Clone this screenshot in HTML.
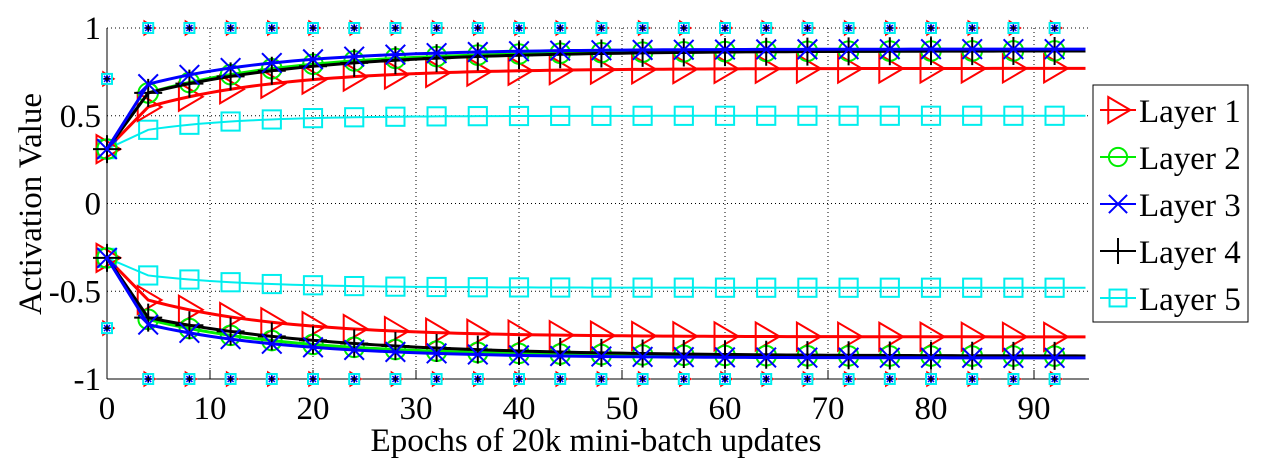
<!DOCTYPE html>
<html><head><meta charset="utf-8"><style>
body{margin:0;background:#fff;width:1273px;height:465px;overflow:hidden}
text{font-family:"Liberation Serif","DejaVu Serif",serif}
</style></head><body>
<svg id="s" width="1273" height="465" xmlns="http://www.w3.org/2000/svg" font-family="Liberation Serif, DejaVu Serif, serif"></svg>
<script>
const s=document.getElementById('s');
const X=x=>107+x*10.3, Y=y=>203.5-y*175.5;
const F='font-family="Liberation Serif, serif"';
let h='';
for(let v of [10,20,30,40,50,60,70,80,90]) h+=`<line x1="${X(v)}" y1="28" x2="${X(v)}" y2="379" stroke="#000" stroke-width="1" stroke-dasharray="1,3"/>`;
for(let v of [1,0.5,0,-0.5]) h+=`<line x1="107" y1="${Y(v)}" x2="1089" y2="${Y(v)}" stroke="#000" stroke-width="1" stroke-dasharray="1,3"/>`;
h+=`<line x1="107" y1="28" x2="107" y2="379" stroke="#000"/><line x1="107" y1="379" x2="1089" y2="379" stroke="#000"/>`;
for(let v of [0,10,20,30,40,50,60,70,80,90]){h+=`<line x1="${X(v)}" y1="379" x2="${X(v)}" y2="370" stroke="#000"/><text ${F} x="${X(v)}" y="419" font-size="33" text-anchor="middle">${v}</text>`;}
for(let v of [1,0.5,0,-0.5,-1]) h+=`<text ${F} x="101" y="${Y(v)+11}" font-size="33" text-anchor="end">${v}</text>`;
h+=`<text ${F} x="596" y="451" font-size="33" text-anchor="middle">Epochs of 20k mini-batch updates</text>`;
h+=`<text ${F} transform="translate(41,204) rotate(-90)" font-size="33" text-anchor="middle">Activation Value</text>`;
function mk(t,cx,cy,c,r){r=r||14;
 if(t==0)return `<path d="M${cx-r*0.75},${cy-r} L${cx+r*0.95},${cy} L${cx-r*0.75},${cy+r} Z" fill="none" stroke="${c}" stroke-width="2"/>`;
 if(t==1)return `<circle cx="${cx}" cy="${cy}" r="${r*0.7}" fill="none" stroke="${c}" stroke-width="2"/>`;
 if(t==2){let d=r*0.7;return `<path d="M${cx-d},${cy-d}L${cx+d},${cy+d}M${cx-d},${cy+d}L${cx+d},${cy-d}" stroke="${c}" stroke-width="2"/>`;}
 if(t==3)return `<path d="M${cx-r},${cy}L${cx+r},${cy}M${cx},${cy-r}L${cx},${cy+r}" stroke="${c}" stroke-width="2"/>`;
 return `<rect x="${cx-r*0.65}" y="${cy-r*0.65}" width="${r*1.3}" height="${r*1.3}" fill="none" stroke="${c}" stroke-width="2"/>`;}
const cols=['#f00','#0e0','#00f','#000','#0ee'];
const P=[[0.55,0.77,13],[0.63,0.87,14],[0.68,0.88,13],[0.63,0.87,16],[0.42,0.50,9]];
const N=[[-0.55,-0.76,13],[-0.66,-0.87,14],[-0.69,-0.88,14],[-0.65,-0.87,18],[-0.41,-0.48,10]];
const ordr=[4,0,1,3,2];
for(let i of ordr){for(let [arr,s0] of [[P,0.31],[N,-0.31]]){let [v4,e,T]=arr[i];let pts=[[0,s0]];
 for(let x=4;x<=95.3;x+=1){pts.push([x,e-(e-v4)*Math.exp(-(x-4)/T)]);}
 h+=`<polyline points="${pts.map(p=>X(p[0])+','+Y(p[1])).join(' ')}" fill="none" stroke="${cols[i]}" stroke-width="${i==4?2:3}"/>`;
 for(let x=0;x<=92;x+=4){let v=x==0?s0:e-(e-v4)*Math.exp(-(x-4)/T);h+=mk(i,X(x),Y(v),cols[i]);}}}
function small(cx,cy){return `<path d="M${cx-4},${cy-7}L${cx+7},${cy}L${cx-4},${cy+7}Z" fill="none" stroke="#f00" stroke-width="1.5"/><rect x="${cx-5}" y="${cy-5}" width="10" height="10" fill="#fff" stroke="#0ee" stroke-width="2"/><path d="M${cx-4},${cy}L${cx+4},${cy}M${cx},${cy-4}L${cx},${cy+4}M${cx-3},${cy-3}L${cx+3},${cy+3}M${cx-3},${cy+3}L${cx+3},${cy-3}" stroke="#00f" stroke-width="1.5"/><path d="M${cx-3},${cy}L${cx+3},${cy}M${cx},${cy-3}L${cx},${cy+3}" stroke="#000" stroke-width="1.5"/>`;}
for(let x=4;x<=92;x+=4){h+=small(X(x),Y(1));h+=small(X(x),Y(-1));}
h+=small(X(0),Y(0.71));h+=small(X(0),Y(-0.71));
h+=`<rect x="1093" y="85" width="155" height="237" fill="#fff" stroke="#000"/>`;
for(let i=0;i<5;i++){let cy=110+i*47;h+=`<line x1="1100" y1="${cy}" x2="1136" y2="${cy}" stroke="${cols[i]}" stroke-width="2"/>`+mk(i,1118,cy,cols[i],13)+`<text ${F} x="1139" y="${cy+12}" font-size="33">Layer ${i+1}</text>`;}
s.innerHTML=h;
</script>
</body></html>
